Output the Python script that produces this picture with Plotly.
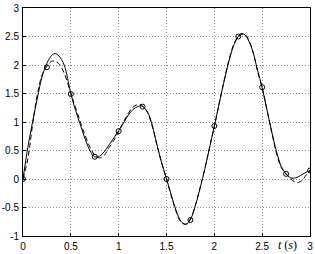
import plotly.graph_objects as go

# Continuous signal (solid)
t_solid = [0.00, 0.05, 0.10, 0.15, 0.20, 0.25, 0.30, 0.335, 0.375, 0.43, 0.50, 0.55, 0.60, 0.65,
           0.70, 0.75, 0.80, 0.85, 0.90, 0.95, 1.00, 1.05, 1.10, 1.15, 1.20, 1.24, 1.30, 1.35,
           1.40, 1.45, 1.50, 1.55, 1.60, 1.65, 1.70, 1.75, 1.80, 1.85, 1.90, 1.95, 2.00, 2.05,
           2.10, 2.15, 2.20, 2.25, 2.28, 2.32, 2.36, 2.40, 2.45, 2.50, 2.55, 2.60, 2.65, 2.70,
           2.75, 2.80, 2.85, 2.90, 2.95, 3.00]
v_solid = [0.00, 0.55, 1.00, 1.42, 1.80, 2.03, 2.17, 2.20, 2.16, 2.00, 1.50, 1.20, 0.95, 0.70,
           0.50, 0.39, 0.40, 0.48, 0.60, 0.72, 0.85, 0.98, 1.12, 1.22, 1.27, 1.28, 1.18, 0.95,
           0.60, 0.28, 0.00, -0.28, -0.55, -0.74, -0.80, -0.71, -0.48, -0.17, 0.17, 0.55, 0.93, 1.32,
           1.70, 2.05, 2.33, 2.50, 2.55, 2.53, 2.42, 2.25, 1.92, 1.60, 1.22, 0.83, 0.48, 0.22,
           0.09, 0.02, 0.02, 0.06, 0.11, 0.15]

# Reconstructed signal (dashed)
t_dash = [0.00, 0.05, 0.10, 0.15, 0.20, 0.25, 0.31, 0.37, 0.43, 0.50, 0.55, 0.60, 0.65, 0.70,
          0.75, 0.80, 0.85, 0.90, 0.95, 1.00, 1.05, 1.10, 1.15, 1.21, 1.25, 1.30, 1.35, 1.40,
          1.45, 1.50, 1.55, 1.60, 1.65, 1.70, 1.75, 1.80, 1.85, 1.90, 1.95, 2.00, 2.05, 2.10,
          2.15, 2.20, 2.25, 2.29, 2.33, 2.37, 2.41, 2.45, 2.50, 2.55, 2.60, 2.65, 2.70, 2.75,
          2.80, 2.85, 2.88, 2.92, 2.96, 3.00]
v_dash = [0.00, 0.35, 0.95, 1.48, 1.83, 1.98, 2.07, 2.03, 1.86, 1.50, 1.25, 1.00, 0.76, 0.56,
          0.42, 0.37, 0.42, 0.55, 0.68, 0.83, 1.00, 1.15, 1.26, 1.31, 1.28, 1.17, 0.93, 0.60,
          0.28, 0.00, -0.30, -0.57, -0.75, -0.79, -0.70, -0.47, -0.16, 0.18, 0.55, 0.92, 1.32,
          1.71, 2.07, 2.35, 2.50, 2.54, 2.52, 2.40, 2.20, 1.90, 1.60, 1.21, 0.82, 0.45, 0.20,
          0.09, 0.00, -0.06, -0.06, -0.02, 0.07, 0.14]

# Samples (circles)
t_samp = [0.00, 0.25, 0.50, 0.75, 1.00, 1.25, 1.50, 1.75, 2.00, 2.25, 2.50, 2.75, 3.00]
v_samp = [0.00, 1.96, 1.49, 0.39, 0.84, 1.27, 0.00, -0.72, 0.93, 2.50, 1.61, 0.09, 0.15]

x_ticks = [0, 0.5, 1, 1.5, 2, 2.5, 3]
x_tick_labels = ["0", "0.5", "1", "1.5", "2", "2.5", "3"]
y_ticks = [-1, -0.5, 0, 0.5, 1, 1.5, 2, 2.5, 3]
y_tick_labels = ["-1", "-0.5", "0", "0.5", "1", "1.5", "2", "2.5", "3"]

fig = go.Figure()
fig.add_trace(go.Scatter(x=t_dash, y=v_dash, mode="lines", line_shape="spline",
                         line=dict(color="black", width=1, dash="5px,3px")))
fig.add_trace(go.Scatter(x=t_solid, y=v_solid, mode="lines", line_shape="spline",
                         line=dict(color="black", width=1)))
fig.add_trace(go.Scatter(x=t_samp, y=v_samp, mode="markers",
                         marker=dict(symbol="circle-open", size=5, color="black",
                                     line=dict(width=1, color="black"))))

axis_common = dict(showline=True, linecolor="black", linewidth=1, mirror=True,
                   showgrid=True, gridcolor="#888", gridwidth=1, griddash="1px,2px",
                   zeroline=False, ticks="inside", ticklen=3, tickcolor="black",
                   ticklabeloverflow="allow",
                   tickfont=dict(family="Liberation Sans, Arial", size=10, color="black"))

fig.update_layout(
    width=315, height=254,
    margin=dict(l=18, r=2, t=5, b=16),
    paper_bgcolor="white", plot_bgcolor="white",
    showlegend=False,
    xaxis=dict(range=[0, 3], tickvals=x_ticks, ticktext=x_tick_labels, **axis_common),
    yaxis=dict(range=[-1, 3], tickvals=y_ticks, ticktext=y_tick_labels, **axis_common),
)
fig.update_xaxes(ticklabelstandoff=1)
fig.update_yaxes(ticklabelstandoff=1)

fig.add_annotation(text="<i>t</i> (<i>s</i>)", xref="paper", yref="paper",
                   x=0.96, y=0, yshift=0, xanchor="right", yanchor="top", showarrow=False,
                   font=dict(family="Liberation Serif, Times New Roman", size=12, color="black"))

fig.write_html("out.html")
